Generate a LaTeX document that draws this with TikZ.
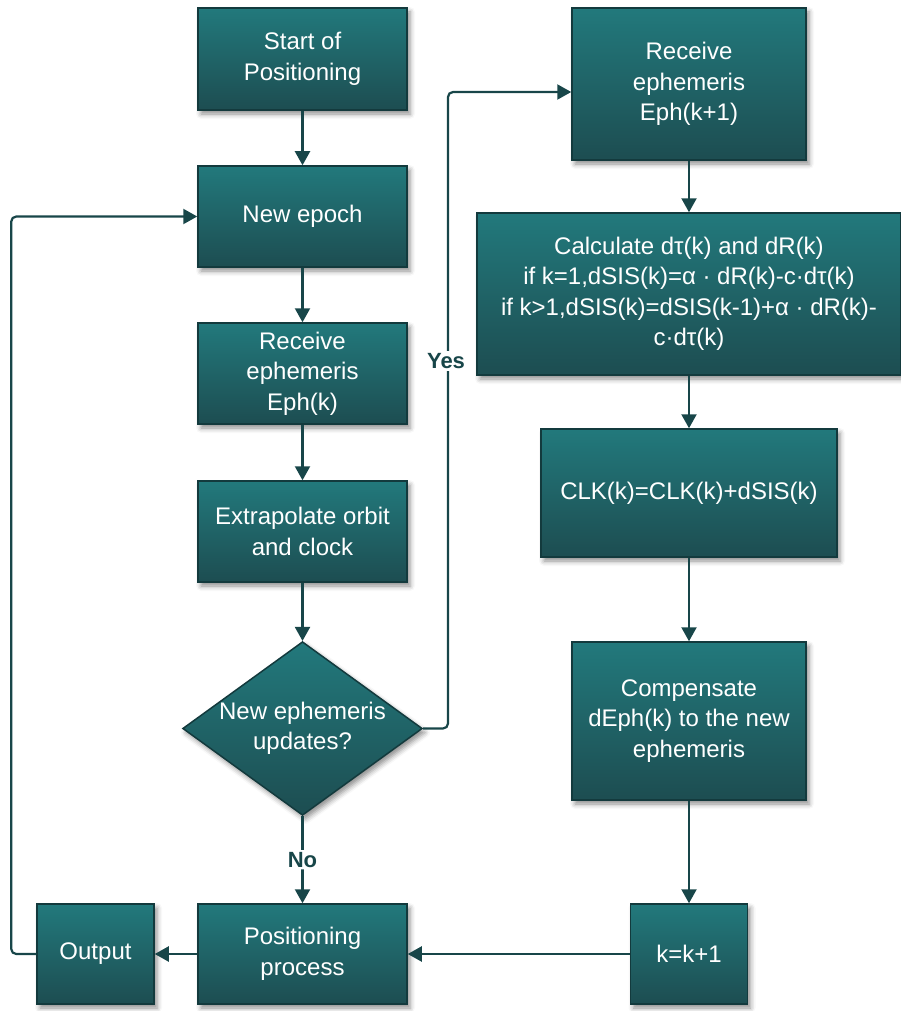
\documentclass[tikz,border=0pt]{standalone}
\usepackage{fontspec}
\setmainfont{Liberation Sans}
\usetikzlibrary{arrows.meta}
\usetikzlibrary{shapes.geometric}
\usetikzlibrary{shadows.blur}
\definecolor{boxtop}{RGB}{34,121,124}
\definecolor{boxbot}{RGB}{29,77,81}
\definecolor{boxline}{RGB}{19,58,61}
\definecolor{flowline}{RGB}{24,70,73}

\begin{document}
\begin{tikzpicture}[x=1pt, y=-1pt,
  font=\fontsize{24}{30.5}\selectfont,
  box/.style={draw=boxline, line width=1.5pt, top color=boxtop, bottom color=boxbot,
    text=white, align=center, inner sep=2pt,
    blur shadow={shadow xshift=3pt, shadow yshift=-4pt, shadow blur radius=5pt, shadow opacity=45}},
  flow/.style={draw=flowline, line width=2.2pt, -{Triangle[length=14pt, width=15pt]}, rounded corners=5pt},
  lbl/.style={fill=white, text=flowline, font=\fontsize{22}{26}\selectfont\bfseries, inner sep=2pt}]
\useasboundingbox (0,0) rectangle (901,1011);
\node[box, minimum width=209pt, minimum height=102pt] (start) at (302.5,59) {Start of\\Positioning};
\node[box, minimum width=209pt, minimum height=101pt] (epoch) at (302.5,216.5) {New epoch};
\node[box, minimum width=209pt, minimum height=101pt] (recv) at (302.5,373.5) {Receive\\ephemeris\\Eph(k)};
\node[box, minimum width=209pt, minimum height=101pt] (extra) at (302.5,531.5) {Extrapolate orbit\\and clock};
\node[box, diamond, aspect=1.38, inner sep=0pt, minimum width=238pt, minimum height=173pt] (upd) at (302.5,728.5) {New ephemeris\\updates?};
\node[box, minimum width=209pt, minimum height=100pt] (proc) at (302.5,954) {Positioning\\process};
\node[box, minimum width=117pt, minimum height=100pt] (out) at (95.5,954) {Output};
\node[box, minimum width=234pt, minimum height=152pt] (recv2) at (689,84) {Receive\\ephemeris\\Eph(k+1)};
\node[box, minimum width=424pt, minimum height=162pt] (calc) at (689,294) {Calculate dτ(k) and dR(k)\\if k=1,dSIS(k)=α · dR(k)-c·dτ(k)\\if k>1,dSIS(k)=dSIS(k-1)+α · dR(k)-\\c·dτ(k)};
\node[box, minimum width=296pt, minimum height=128pt] (clk) at (689,493) {CLK(k)=CLK(k)+dSIS(k)};
\node[box, minimum width=234pt, minimum height=158pt] (comp) at (689,721) {Compensate\\dEph(k) to the new\\ephemeris};
\node[box, minimum width=117pt, minimum height=100pt] (incr) at (689,954) {k=k+1};
\draw[flow] (start) -- (epoch);
\draw[flow] (epoch) -- (recv);
\draw[flow] (recv) -- (extra);
\draw[flow] (extra) -- (upd);
\draw[flow] (upd) -- node[lbl] (no) {No} (proc);
\draw[flow] (upd.east) -- (448,728.5) -- (448,92) -- ([yshift=-8pt]recv2.west);
\node[lbl] (yes) at (446,361) {Yes};
\draw[flow] (recv2) -- (calc);
\draw[flow] (calc) -- (clk);
\draw[flow] (clk) -- (comp);
\draw[flow] (comp) -- (incr);
\draw[flow] (incr) -- (proc);
\draw[flow] (proc) -- (out);
\draw[flow] (out.west) -- ++(-25,0) |- (epoch.west);
\end{tikzpicture}
\end{document}
